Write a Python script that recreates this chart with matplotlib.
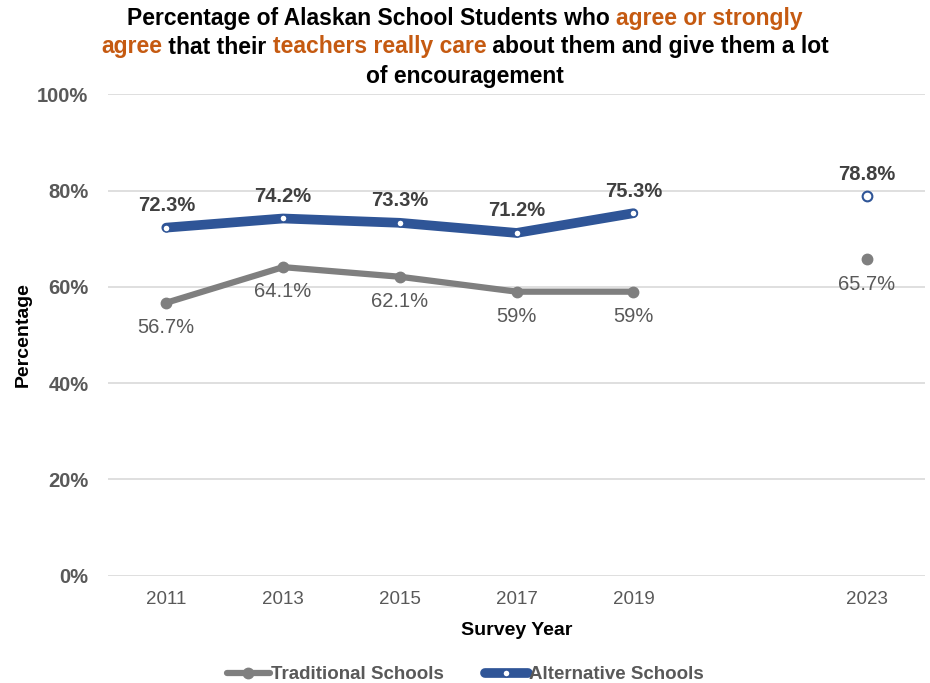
import numpy as np
import matplotlib
matplotlib.use("Agg")
import matplotlib.pyplot as plt

plt.rcParams['font.family'] = ['Liberation Sans', 'DejaVu Sans']

# データ
years = ['2011', '2013', '2015', '2017', '2019', '2021', '2023']
traditional = [56.7, 64.1, 62.1, 59.0, 59.0, np.nan, 65.7]
alternative = [72.3, 74.2, 73.3, 71.2, 75.3, np.nan, 78.8]
trad_labels = ['56.7%', '64.1%', '62.1%', '59%', '59%', '', '65.7%']
alt_labels = ['72.3%', '74.2%', '73.3%', '71.2%', '75.3%', '', '78.8%']
tick_labels = ['2011', '2013', '2015', '2017', '2019', '', '2023']

gray = '#7F7F7F'
blue = '#2F5597'
orange = '#C55A11'
txt = '#595959'

fig = plt.figure(figsize=(9.3, 6.83), dpi=100)
ax = fig.add_axes([0.116, 0.157, 0.879, 0.705])

x = np.arange(len(years))
ax.plot(x, traditional, color=gray, lw=4.5, marker='o', ms=7.5, mfc=gray, mec=gray,
        solid_capstyle='round', label='Traditional Schools')
ax.plot(x, alternative, color=blue, lw=7, marker='o', ms=5, mfc='white', mec=blue, mew=1,
        solid_capstyle='round', label='Alternative Schools')
# 2023 は単独の点
ax.plot(x[6], alternative[6], 'o', ms=7, mfc='white', mec=blue, mew=1.5)

for i in range(len(years)):
    if trad_labels[i]:
        ax.annotate(trad_labels[i], (x[i], traditional[i]), xytext=(0, -11),
                    textcoords='offset points', ha='center', va='top',
                    fontsize=14.5, color=txt)
    if alt_labels[i]:
        ax.annotate(alt_labels[i], (x[i], alternative[i]), xytext=(0, 9),
                    textcoords='offset points', ha='center', va='bottom',
                    fontsize=14.5, color='#404040', fontweight='bold')

ax.set_xlim(-0.5, 6.5)
ax.set_ylim(0, 100)
ax.set_xticks(x)
ax.set_xticklabels(tick_labels, fontsize=13.5, color=txt)
ax.set_yticks(range(0, 101, 20))
ax.set_yticklabels([f'{v}%' for v in range(0, 101, 20)], fontsize=14.5,
                   color=txt, fontweight='bold')
ax.tick_params(length=0, pad=14)
ax.tick_params(axis='x', pad=11)
ax.grid(axis='y', color='#D9D9D9', lw=1.2)
ax.set_axisbelow(True)
for s in ax.spines.values():
    s.set_visible(False)

ax.set_xlabel('Survey Year', fontsize=14, fontweight='bold', labelpad=10)
ax.set_ylabel('Percentage', fontsize=14, fontweight='bold', labelpad=4)

fig.legend(loc='lower center', bbox_to_anchor=(0.5, -0.025), ncol=2, frameon=False,
           handlelength=2.3, handletextpad=0.05, columnspacing=2.2,
           labelcolor=txt, prop={'weight': 'bold', 'size': 13.5})

# タイトル（色分け）
title_lines = [
    [('Percentage of Alaskan School Students who ', 'black'), ('agree or strongly', orange)],
    [('agree', orange), (' that their ', 'black'), ('teachers really care', orange),
     (' about them and give them a lot', 'black')],
    [('of encouragement', 'black')],
]
renderer = fig.canvas.get_renderer()
cx = 0.5
y_pos = [1 - 19 / 683, 1 - 47 / 683, 1 - 76 / 683]
for line, yy in zip(title_lines, y_pos):
    pieces = []
    for s, c in line:
        t = fig.text(0, yy, s, color=c, fontsize=16.5, fontweight='bold',
                     ha='left', va='center')
        pieces.append(t)
    widths = [t.get_window_extent(renderer).width / fig.bbox.width for t in pieces]
    start = cx - sum(widths) / 2
    for t, w in zip(pieces, widths):
        t.set_x(start)
        start += w

fig.savefig('out.png', dpi=100)
